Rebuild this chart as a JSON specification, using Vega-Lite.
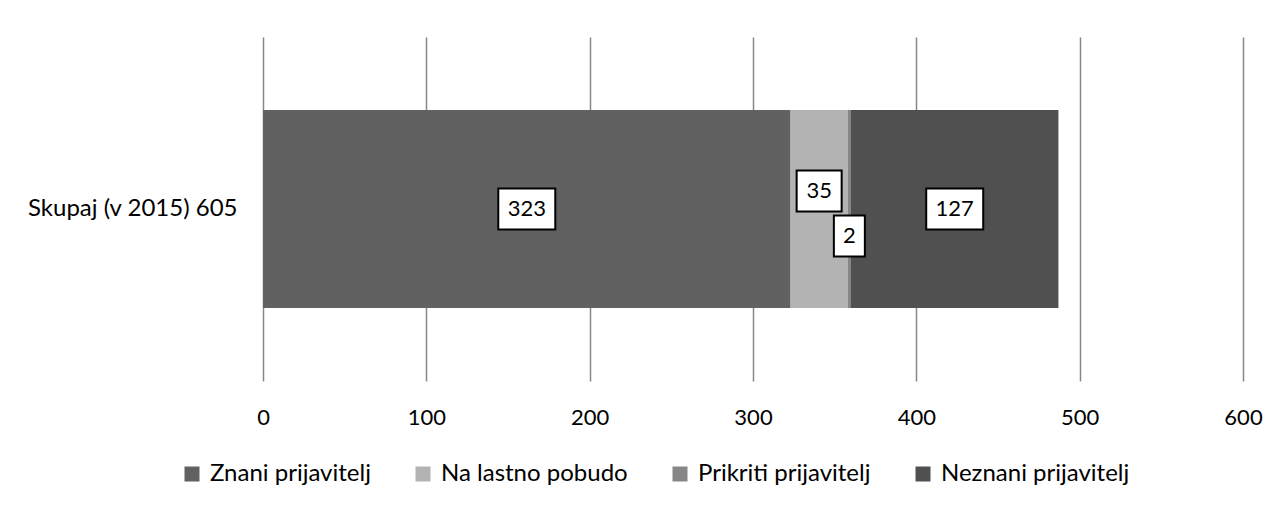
{
  "$schema": "https://vega.github.io/schema/vega-lite/v6.json",
  "width": 980,
  "height": 344,
  "autosize": {"type": "none"},
  "padding": {"left": 263, "top": 37, "right": 42, "bottom": 126},
  "background": "white",
  "config": {
    "font": "Lato",
    "view": {"stroke": null}
  },
  "data": {
    "values": [
      {"cat": "Skupaj (v 2015) 605", "k": "Znani prijavitelj", "v": 323, "o": 1},
      {"cat": "Skupaj (v 2015) 605", "k": "Na lastno pobudo", "v": 35, "o": 2},
      {"cat": "Skupaj (v 2015) 605", "k": "Prikriti prijavitelj", "v": 2, "o": 3},
      {"cat": "Skupaj (v 2015) 605", "k": "Neznani prijavitelj", "v": 127, "o": 4}
    ]
  },
  "layer": [
    {
      "mark": {"type": "bar"},
      "encoding": {
        "y": {
          "field": "cat", "type": "nominal", "title": null,
          "scale": {"paddingInner": 0.424, "paddingOuter": 0.212},
          "axis": {"labelFontSize": 24, "labelColor": "#000", "ticks": false, "domain": false, "labelPadding": 26, "labelLimit": 0}
        },
        "x": {
          "field": "v", "type": "quantitative", "stack": "zero", "title": null,
          "scale": {"domain": [0, 600], "nice": false},
          "axis": {"values": [0, 100, 200, 300, 400, 500, 600], "grid": true, "gridColor": "#888888", "gridWidth": 1.5, "ticks": false, "domain": false, "labelFontSize": 22, "labelColor": "#000", "labelPadding": 26, "labelFlush": false, "labelAlign": "center"}
        },
        "color": {
          "field": "k", "type": "nominal",
          "scale": {
            "domain": ["Znani prijavitelj", "Na lastno pobudo", "Prikriti prijavitelj", "Neznani prijavitelj"],
            "range": ["#616161", "#b3b3b3", "#868686", "#505050"]
          },
          "legend": {
            "title": null, "orient": "none", "direction": "horizontal",
            "legendX": -83, "legendY": 425, "padding": 0,
            "symbolType": "square", "symbolSize": 225, "symbolStrokeWidth": 0,
            "labelFontSize": 24, "labelColor": "#000", "labelOffset": 6, "columnPadding": 40, "labelLimit": 0
          }
        },
        "order": {"field": "o", "type": "quantitative"}
      }
    },
    {
      "transform": [
        {"stack": "v", "groupby": ["cat"], "sort": [{"field": "o"}], "as": ["s", "e"]},
        {"calculate": "(datum.s + datum.e) / 2", "as": "mid"}
      ],
      "encoding": {
        "x": {"field": "mid", "type": "quantitative"},
        "y": {"field": "cat", "type": "nominal"}
      },
      "layer": [
        {
          "transform": [{"filter": "datum.v >= 100"}],
          "mark": {"type": "rect", "width": 57, "height": 41, "fill": "white", "stroke": "black", "strokeWidth": 2}
        },
        {
          "transform": [{"filter": "datum.v >= 10 && datum.v < 100"}],
          "mark": {"type": "rect", "width": 45, "height": 41, "fill": "white", "stroke": "black", "strokeWidth": 2, "yOffset": -18}
        },
        {
          "transform": [{"filter": "datum.v < 10"}],
          "mark": {"type": "rect", "width": 31, "height": 41, "fill": "white", "stroke": "black", "strokeWidth": 2, "yOffset": 27}
        },
        {
          "transform": [{"filter": "datum.v >= 100"}],
          "mark": {"type": "text", "fontSize": 22, "color": "#000", "baseline": "middle"},
          "encoding": {"text": {"field": "v", "type": "quantitative"}}
        },
        {
          "transform": [{"filter": "datum.v >= 10 && datum.v < 100"}],
          "mark": {"type": "text", "fontSize": 22, "color": "#000", "baseline": "middle", "yOffset": -18},
          "encoding": {"text": {"field": "v", "type": "quantitative"}}
        },
        {
          "transform": [{"filter": "datum.v < 10"}],
          "mark": {"type": "text", "fontSize": 22, "color": "#000", "baseline": "middle", "yOffset": 27},
          "encoding": {"text": {"field": "v", "type": "quantitative"}}
        }
      ]
    }
  ]
}
